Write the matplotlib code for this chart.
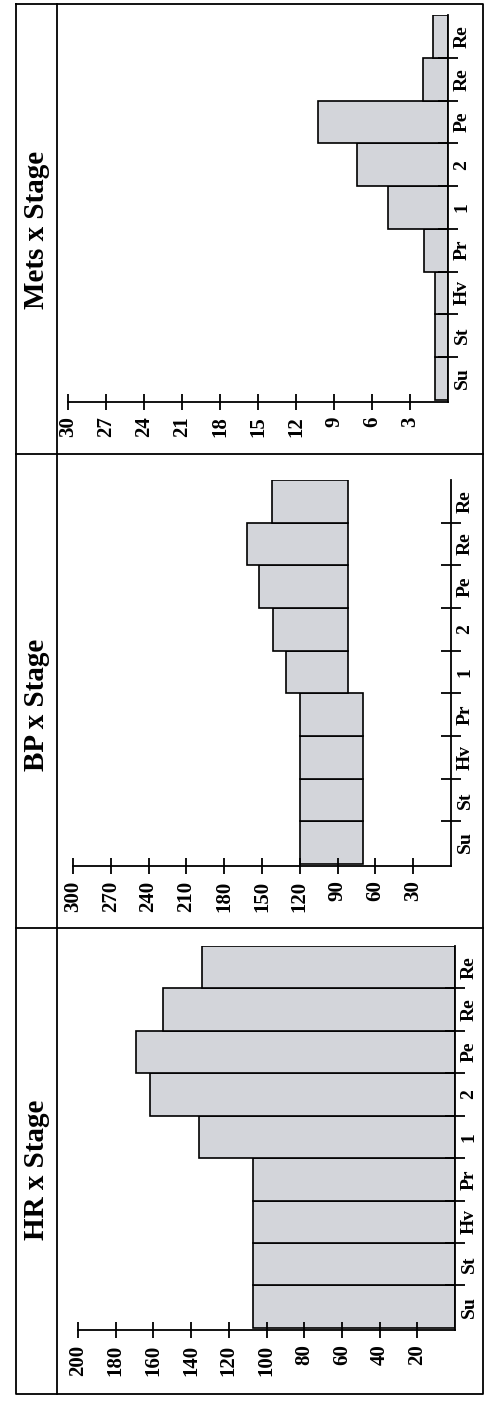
import matplotlib
matplotlib.use("Agg")
import matplotlib.pyplot as plt
from matplotlib.lines import Line2D

stages = ["Su", "St", "Hv", "Pr", "1", "2", "Pe", "Re", "Re"]
hr_values = [107, 107, 107, 107, 136, 162, 169, 155, 134]
bp_systolic = [120, 120, 120, 120, 131, 141, 152, 162, 142]
bp_diastolic = [70, 70, 70, 70, 82, 82, 82, 82, 82]
mets_values = [1.0, 1.0, 1.0, 1.9, 4.7, 7.2, 10.3, 2.0, 1.2]
hr_ticks = [20, 40, 60, 80, 100, 120, 140, 160, 180, 200]
bp_ticks = [30, 60, 90, 120, 150, 180, 210, 240, 270, 300]
mets_ticks = [3, 6, 9, 12, 15, 18, 21, 24, 27, 30]

W, H = 484, 1401
plt.rcParams['font.family'] = ['Liberation Serif', 'DejaVu Serif']
fig = plt.figure(figsize=(W / 100, H / 100), dpi=100)
FACE = '#d3d5da'

def px_axes(x0, x1, y0, y1):
    return fig.add_axes([x0 / W, 1 - y1 / H, (x1 - x0) / W, (y1 - y0) / H])

def setup(ax, xmax, ticks, title, ytitle):
    n = len(stages)
    ax.set_xlim(xmax, 0)
    ax.set_ylim(-0.55, n - 0.5)
    for s in ['top', 'left']:
        ax.spines[s].set_visible(False)
    for s in ['bottom', 'right']:
        ax.spines[s].set_linewidth(1.3)
    ax.set_xticks(ticks)
    ax.set_xticklabels([str(t) for t in ticks], rotation=90, fontsize=15, fontweight='bold')
    ax.tick_params(axis='x', direction='inout', length=11, width=1.3, pad=5)
    ax.yaxis.tick_right()
    ax.set_yticks([i + 0.5 for i in range(n - 1)])
    ax.set_yticklabels([])
    ax.set_yticks(range(n), minor=True)
    ax.set_yticklabels(stages, minor=True, rotation=90, fontsize=14, fontweight='bold', va='center')
    ax.tick_params(axis='y', which='major', direction='inout', length=14, width=1.3)
    ax.tick_params(axis='y', which='minor', length=0, pad=4)
    ax.patch.set_alpha(0)
    fig.text(37 / W, 1 - ytitle / H, title, rotation=90, fontsize=21, fontweight='bold',
             ha='center', va='center')

y = list(range(len(stages)))
# Mets (top)
ax = px_axes(68, 448, 15, 402)
ax.barh(y, mets_values, height=1.0, color=FACE, edgecolor='black', linewidth=1.2)
setup(ax, 30, mets_ticks, "Mets x Stage", 230)
# BP (middle)
ax = px_axes(73, 451, 480, 866)
ax.barh(y, [s - d for s, d in zip(bp_systolic, bp_diastolic)], left=bp_diastolic,
        height=1.0, color=FACE, edgecolor='black', linewidth=1.2)
setup(ax, 300, bp_ticks, "BP x Stage", 705)
# HR (bottom)
ax = px_axes(78, 455, 946, 1330)
ax.barh(y, hr_values, height=1.0, color=FACE, edgecolor='black', linewidth=1.2)
setup(ax, 200, hr_ticks, "HR x Stage", 1170)

# frame
def fl(xs, ys, lw=1.3):
    fig.add_artist(Line2D([x / W for x in xs], [1 - v / H for v in ys], color='black', lw=lw))
fl([16, 483, 483, 16, 16], [4, 4, 1394, 1394, 4])
fl([57, 57], [4, 1394])
fl([16, 483], [454, 454])
fl([16, 483], [928, 928])

fig.savefig("out.png", dpi=100, facecolor='white')
